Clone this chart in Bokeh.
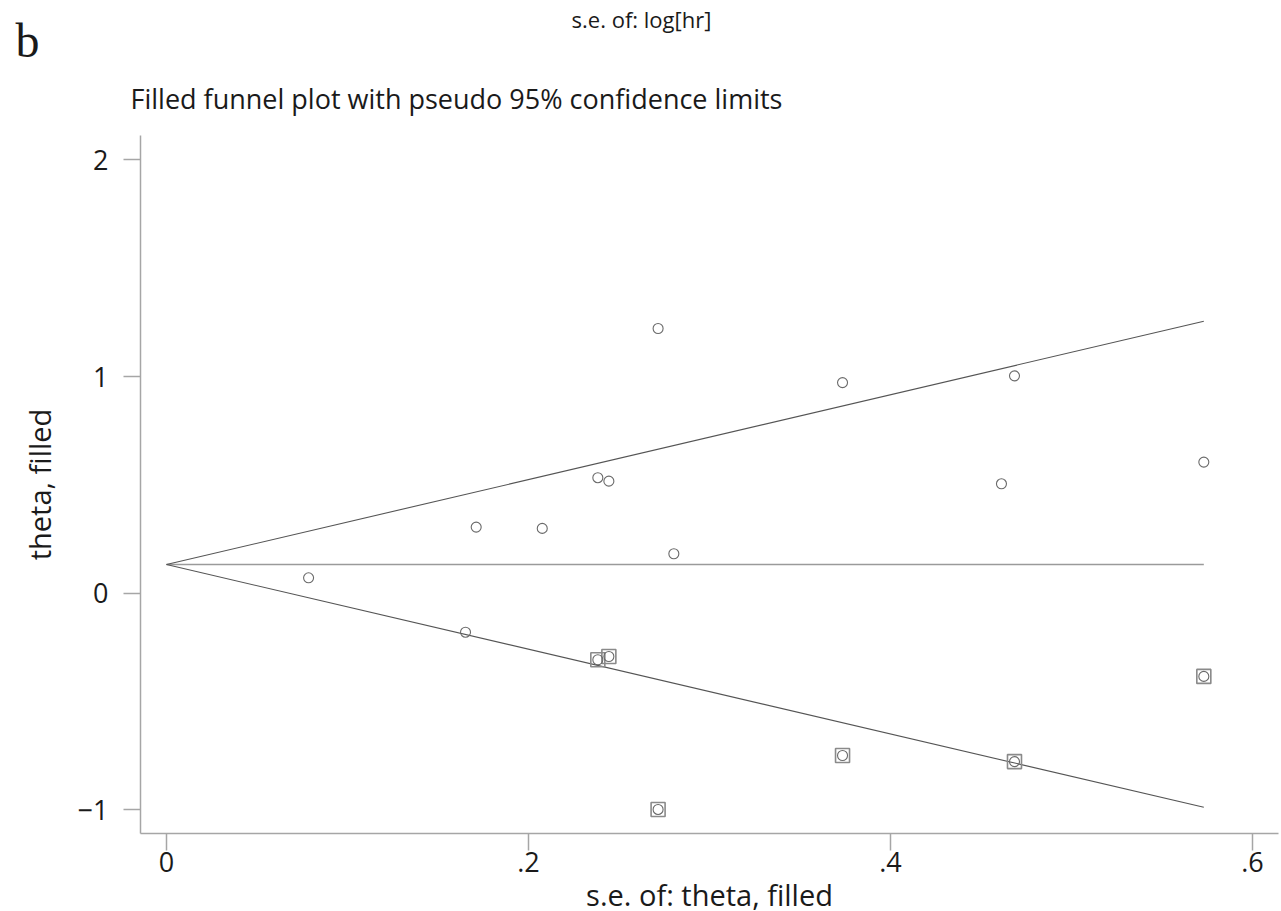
from bokeh.plotting import figure
from bokeh.models import Range1d, FixedTicker
from bokeh.layouts import column
from bokeh.core.properties import value
from bokeh.embed import file_html
from bokeh.resources import INLINE

# ---- data ----
se_observed = [0.0785, 0.1652, 0.1711, 0.2076, 0.2383, 0.2444, 0.2716, 0.2803, 0.3735, 0.4613, 0.4685, 0.5731]
theta_observed = [0.071, -0.180, 0.305, 0.299, 0.533, 0.517, 1.2215, 0.182, 0.972, 0.505, 1.003, 0.605]
se_filled = [0.2383, 0.2444, 0.2716, 0.3735, 0.4685, 0.5731]
theta_filled = [-0.307, -0.292, -0.998, -0.749, -0.777, -0.384]

funnel_se = [0.0, 0.5731]
funnel_upper = [0.1325, 1.255]
funnel_lower = [0.1325, -0.988]
funnel_center = [0.1325, 0.1325]

x_ticks = [0, 0.2, 0.4, 0.6]
x_tick_labels = ["0", ".2", ".4", ".6"]
y_ticks = [-1, 0, 1, 2]
y_tick_labels = ["\u22121", "0", "1", "2"]

panel_letter = "b"
header_text = "s.e. of: log[hr]"
title_text = "Filled funnel plot with pseudo 95% confidence limits"
x_label = "s.e. of: theta, filled"
y_label = "theta, filled"

FONT = "Open Sans"
TXT = "#1a1a1a"
AX = "#a6a6a6"

# ---- header strip (pixel coordinates, y downwards) ----
head = figure(width=1281, height=135, min_border=0,
              x_range=Range1d(0, 1281), y_range=Range1d(135, 0),
              x_axis_type=None, y_axis_type=None,
              output_backend="svg", toolbar_location=None)
head.frame_align = False
head.outline_line_color = None
head.xgrid.visible = False
head.ygrid.visible = False
head.text(x=[15], y=[40], text=[panel_letter], text_font=value("Liberation Serif"),
          text_font_size="48px", text_color=TXT, text_baseline="alphabetic", text_align="left")
head.text(x=[641], y=[3], text=[header_text], text_font=value(FONT),
          text_font_size="22px", text_color=TXT, text_baseline="top", text_align="center")
head.text(x=[130], y=[98], text=[title_text], text_font=value(FONT),
          text_font_size="27px", text_color=TXT, text_baseline="alphabetic", text_align="left")

# ---- main funnel plot ----
p = figure(frame_width=1138, frame_height=698,
           min_border_left=140, min_border_top=0, min_border_right=3, min_border_bottom=0,
           x_range=Range1d(-0.01436, 0.61436), y_range=Range1d(-1.1089, 2.1122),
           output_backend="svg", toolbar_location=None)
p.frame_align = False
p.outline_line_color = None
p.xgrid.visible = False
p.ygrid.visible = False

all_se = se_observed + se_filled
all_theta = theta_observed + theta_filled

p.line(funnel_se, funnel_center, line_color="#9a9a9a", line_width=1.3)
p.line(funnel_se, funnel_upper, line_color="#555555", line_width=1.1)
p.line(funnel_se, funnel_lower, line_color="#555555", line_width=1.1)

p.scatter(se_filled, theta_filled, marker="square", size=14, fill_color=None,
          line_color="#8a8a8a", line_width=1.6)
p.scatter(all_se, all_theta, marker="circle", size=10, fill_color=None,
          line_color="#6a6a6a", line_width=1.1)

for ax in (p.xaxis[0], p.yaxis[0]):
    ax.axis_line_color = AX
    ax.axis_line_width = 1.5
    ax.major_tick_line_color = AX
    ax.major_tick_line_width = 1.5
    ax.major_tick_out = 17
    ax.major_tick_in = 0
    ax.minor_tick_line_color = None
    ax.major_label_text_font = FONT
    ax.major_label_text_font_size = "27px"
    ax.major_label_text_color = TXT
    ax.axis_label_text_font = FONT
    ax.axis_label_text_font_size = "29px"
    ax.axis_label_text_font_style = "normal"
    ax.axis_label_text_color = TXT

p.xaxis[0].ticker = FixedTicker(ticks=x_ticks)
p.xaxis[0].major_label_overrides = dict(zip(x_ticks, x_tick_labels))
p.xaxis[0].major_label_standoff = 1
p.xaxis[0].axis_label = x_label
p.xaxis[0].axis_label_standoff = 0

p.yaxis[0].ticker = FixedTicker(ticks=y_ticks)
p.yaxis[0].major_label_overrides = dict(zip(y_ticks, y_tick_labels))
p.yaxis[0].major_label_standoff = 15
p.yaxis[0].axis_label = y_label
p.yaxis[0].axis_label_standoff = 16

layout = column(head, p, spacing=0)
open("out.html", "w").write(file_html(layout, INLINE))
